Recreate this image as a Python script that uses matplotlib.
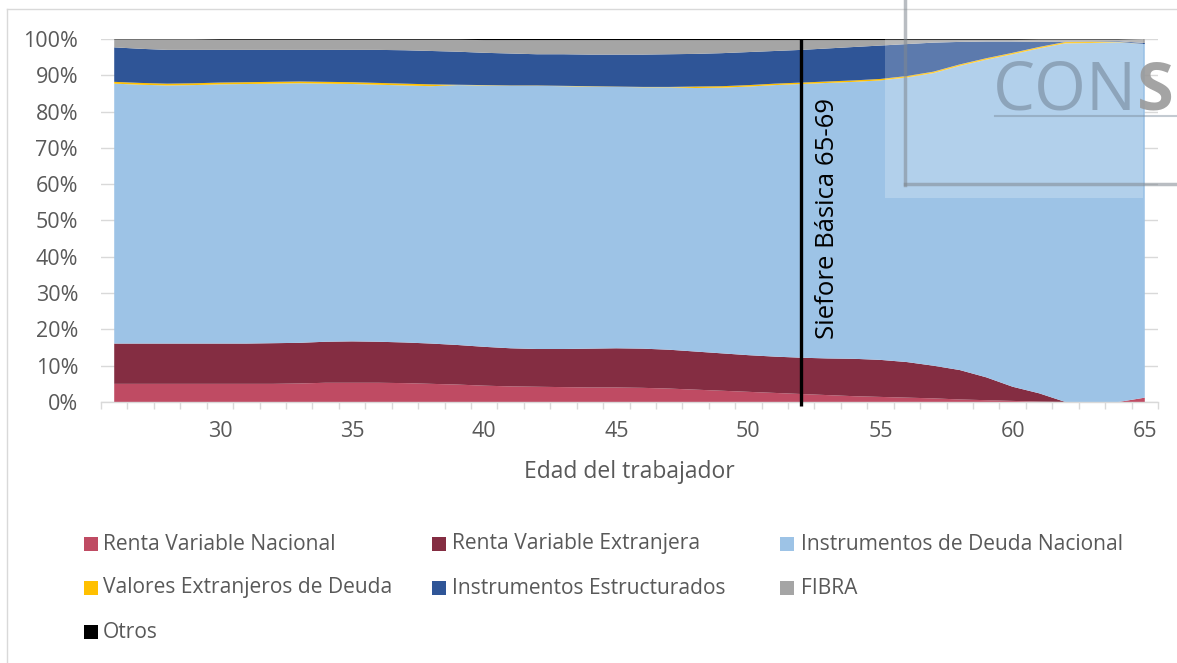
import matplotlib
matplotlib.use("Agg")
import matplotlib.pyplot as plt
import matplotlib.patches as mpatches
from matplotlib.lines import Line2D
import numpy as np

plt.rcParams['font.family'] = ['Open Sans', 'DejaVu Sans']

edades = list(range(26, 66))

renta_var_nac = [5.0, 5.0, 5.0, 5.0, 5.0, 5.0, 5.0, 5.1, 5.3, 5.3,
                 5.3, 5.2, 5.0, 4.8, 4.5, 4.3, 4.2, 4.1, 4.0, 4.0,
                 3.9, 3.7, 3.4, 3.1, 2.8, 2.5, 2.2, 1.9, 1.6, 1.4,
                 1.2, 1.0, 0.7, 0.5, 0.3, 0.1, 0.0, 0.0, 0.0, 1.2]
renta_var_ext = [11.1, 11.1, 11.1, 11.1, 11.1, 11.1, 11.2, 11.2, 11.3, 11.4,
                 11.3, 11.2, 11.1, 10.9, 10.7, 10.5, 10.4, 10.5, 10.7, 10.8,
                 10.8, 10.7, 10.5, 10.3, 10.1, 10.0, 10.0, 10.1, 10.3, 10.2,
                 9.8, 9.0, 8.1, 6.3, 3.9, 2.3, 0.0, 0.0, 0.0, 0.0]
deuda_nac = [71.6, 71.3, 71.1, 71.2, 71.4, 71.5, 71.5, 71.5, 71.1, 70.9,
             70.8, 70.8, 70.9, 71.6, 72.0, 72.3, 72.5, 72.4, 72.2, 72.0,
             72.0, 72.3, 72.6, 73.2, 74.0, 74.8, 75.4, 75.9, 76.3, 77.0,
             78.4, 80.6, 83.8, 87.5, 91.6, 95.0, 98.8, 98.9, 99.1, 97.4]
valores_ext_deuda = [0.5, 0.5, 0.5, 0.5, 0.5, 0.5, 0.5, 0.5, 0.5, 0.5,
                     0.5, 0.5, 0.5, 0.1, 0.1, 0.1, 0.1, 0.1, 0.1, 0.1,
                     0.1, 0.1, 0.4, 0.4, 0.4, 0.4, 0.4, 0.4, 0.4, 0.4,
                     0.4, 0.4, 0.4, 0.4, 0.4, 0.4, 0.4, 0.4, 0.1, 0.0]
estructurados = [9.5, 9.4, 9.3, 9.2, 9.0, 8.9, 8.8, 8.7, 8.8, 8.9,
                 9.1, 9.2, 9.2, 9.1, 8.9, 8.8, 8.6, 8.7, 8.7, 8.8,
                 8.9, 9.0, 9.0, 9.1, 9.1, 9.0, 9.0, 9.1, 9.2, 9.2,
                 8.8, 8.0, 6.2, 4.6, 3.1, 1.4, 0.1, 0.1, 0.2, 0.3]
fibra = [2.2, 2.6, 2.9, 2.9, 2.8, 2.8, 2.8, 2.8, 2.8, 2.8,
         2.8, 2.9, 3.1, 3.3, 3.5, 3.7, 3.9, 3.9, 4.0, 4.0,
         4.0, 3.9, 3.8, 3.6, 3.3, 3.0, 2.7, 2.3, 1.9, 1.5,
         1.1, 0.7, 0.5, 0.4, 0.4, 0.6, 0.5, 0.4, 0.4, 1.1]
otros = [0.1, 0.1, 0.1, 0.1, 0.2, 0.2, 0.2, 0.2, 0.2, 0.2,
         0.2, 0.2, 0.2, 0.2, 0.3, 0.3, 0.3, 0.3, 0.3, 0.3,
         0.3, 0.3, 0.3, 0.3, 0.3, 0.3, 0.3, 0.3, 0.3, 0.3,
         0.3, 0.3, 0.3, 0.3, 0.3, 0.2, 0.2, 0.2, 0.2, 0.0]

series_names = ["Renta Variable Nacional", "Renta Variable Extranjera",
                "Instrumentos de Deuda Nacional", "Valores Extranjeros de Deuda",
                "Instrumentos Estructurados", "FIBRA", "Otros"]
series_colors = ["#BF4B63", "#842D42", "#9DC3E6", "#FFC000", "#2F5597", "#A5A5A5", "#000000"]
x_tick_labels = ["30", "35", "40", "45", "50", "55", "60", "65"]
y_tick_labels = ["0%", "10%", "20%", "30%", "40%", "50%", "60%", "70%", "80%", "90%", "100%"]
linea_edad = 52
linea_texto = "Siefore Básica 65-69"
x_label = "Edad del trabajador"

W, H = 1177, 663
fig = plt.figure(figsize=(W / 100, H / 100), dpi=100)
fig.patch.set_facecolor("white")

def fx(px):
    return px / W

def fy(py):
    return 1 - py / H

ax = fig.add_axes([fx(101), fy(402), fx(1158) - fx(101), fy(39) - fy(402)])

data = [renta_var_nac, renta_var_ext, deuda_nac, valores_ext_deuda, estructurados, fibra, otros]
data = [np.array(d) / 100.0 for d in data]
ax.stackplot(edades, *data, colors=series_colors, linewidth=0, zorder=2)

ax.set_xlim(25.5, 65.5)
ax.set_ylim(0, 1.0)

yt = np.arange(0, 1.01, 0.1)
ax.set_yticks(yt)
ax.set_yticklabels(y_tick_labels)
ax.yaxis.grid(True, color="#D9D9D9", linewidth=1.0, zorder=0)
ax.set_axisbelow(True)
ax.tick_params(axis="y", length=0, pad=16.5, labelsize=15.5, labelcolor="#595959")

xt = [int(t) for t in x_tick_labels]
ax.set_xticks(xt)
ax.set_xticklabels(x_tick_labels)
ax.set_xticks(np.arange(25.5, 65.6, 1.0), minor=True)
ax.tick_params(axis="x", which="major", length=0, pad=14, labelsize=15.5, labelcolor="#595959")
ax.tick_params(axis="x", which="minor", length=5, width=1, color="#D9D9D9", direction="out")

for s in ["left", "right", "top"]:
    ax.spines[s].set_visible(False)
ax.spines["bottom"].set_color("#D9D9D9")
ax.spines["bottom"].set_linewidth(1.0)

ax.set_xlabel(x_label, fontsize=16.5, color="#595959", labelpad=13)

# vertical marker line
ax.plot([linea_edad, linea_edad], [-0.012, 1.0], color="black", linewidth=2.4,
        clip_on=False, zorder=5, solid_capstyle="butt")
ax.text(linea_edad + 0.98, 0.505, linea_texto, rotation=90, fontsize=18.5,
        color="black", ha="center", va="center", zorder=6)

# watermark box
fig.patches.append(mpatches.Rectangle((fx(885), fy(198)), fx(1143) - fx(885), fy(39) - fy(198),
                                      transform=fig.transFigure, facecolor="white",
                                      alpha=0.22, edgecolor="none", zorder=10))
fig.text(fx(993), fy(109), "CON", fontsize=48, color="#6F8093", alpha=0.55,
         ha="left", va="baseline", zorder=11)
fig.text(fx(1137), fy(109), "S", fontsize=48, color="#9A9A9A", alpha=0.9,
         ha="left", va="baseline", fontweight="bold", zorder=11)
fig.lines.append(Line2D([fx(905), fx(905)], [fy(0), fy(185)], transform=fig.transFigure,
                        color="#808890", alpha=0.55, linewidth=2.5, zorder=11))
fig.lines.append(Line2D([fx(905), fx(1177)], [fy(184), fy(184)], transform=fig.transFigure,
                        color="#808890", alpha=0.55, linewidth=2.5, zorder=11))
fig.lines.append(Line2D([fx(995), fx(1177)], [fy(116), fy(116)], transform=fig.transFigure,
                        color="#7A8A9A", alpha=0.45, linewidth=1.5, zorder=11))

# chart border
fig.lines.append(Line2D([fx(7), fx(7)], [fy(9), fy(663)], transform=fig.transFigure,
                        color="#D9D9D9", linewidth=1.0))
fig.lines.append(Line2D([fx(7), fx(1177)], [fy(9), fy(9)], transform=fig.transFigure,
                        color="#D9D9D9", linewidth=1.0))

# legend: row-major grid like the original
col_handle_x = [84, 432, 780]
col_text_x = [103, 452, 801]
row_y = [544, 588, 632]
sq = 14
for i, (name, color) in enumerate(zip(series_names, series_colors)):
    r, c = divmod(i, 3)
    fig.patches.append(mpatches.Rectangle((fx(col_handle_x[c]), fy(row_y[r] + sq / 2)),
                                          fx(sq), sq / H, transform=fig.transFigure,
                                          facecolor=color, edgecolor="none"))
    fig.text(fx(col_text_x[c]), fy(row_y[r]), name, fontsize=15.1, color="#595959",
             ha="left", va="center")

fig.savefig("out.png", dpi=100)
